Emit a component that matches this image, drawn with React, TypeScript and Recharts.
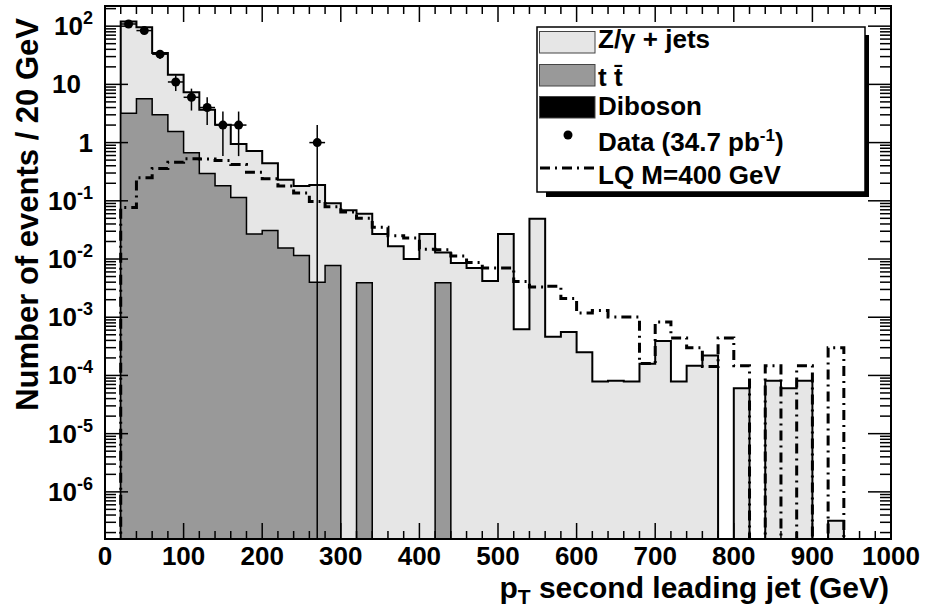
import React from 'react';
import {
  ComposedChart,
  Area,
  Line,
  Scatter,
  ErrorBar,
  XAxis,
  YAxis,
  ReferenceArea,
  Legend,
  Label,
} from 'recharts';

// 20 GeV bins, 0..1000 GeV
const binEdges = Array.from({ length: 51 }, (_, i) => i * 20);

// stacked MC total (Z/gamma + jets on top of ttbar), events / bin
const zjetsStack = [
  0, 120, 96, 34.5, 14.6, 7.3, 3.66, 2.02, 0.95, 0.72,
  0.44, 0.229, 0.18, 0.186, 0.091, 0.069, 0.06, 0.027, 0.0166, 0.01,
  0.027, 0.0129, 0.0085, 0.007, 0.0042, 0.027, 0.00062, 0.049, 0.00046, 0.00056,
  0.00025, 0.000079, 0.000081, 0.000079, 0.000159, 0.00039, 0.000079, 0.000146, 0.00022, 0,
  0.0000605, 0, 0.000081, 0.0000605, 0.000081, 0, 3.2e-7, 0, 0, 0,
];

const ttbar = [
  0, 3.2, 5.66, 3.0, 1.55, 0.67, 0.295, 0.181, 0.114, 0.027,
  0.031, 0.0154, 0.0115, 0.004, 0.0077, 0, 0.0039, 0, 0, 0,
  0, 0.0039, 0, 0, 0, 0, 0, 0, 0, 0,
  0, 0, 0, 0, 0, 0, 0, 0, 0, 0,
  0, 0, 0, 0, 0, 0, 0, 0, 0, 0,
];

const lqM400 = [
  0, 0.077, 0.25, 0.36, 0.46, 0.53, 0.52, 0.49, 0.42, 0.31,
  0.24, 0.18, 0.136, 0.097, 0.079, 0.064, 0.05, 0.035, 0.025, 0.023,
  0.0147, 0.0144, 0.0113, 0.0087, 0.007, 0.007, 0.0041, 0.0033, 0.0034, 0.0021,
  0.00118, 0.00131, 0.00101, 0.00101, 0.00016, 0.00083, 0.00044, 0.0003, 0.000142, 0.00044,
  0.000146, 0, 0.000146, 0, 0.000146, 0, 0.0003, 0, 0, 0,
];

const dataX = [30, 50, 70, 90, 110, 130, 150, 170, 270];
const dataCounts = [109, 84, 33, 11, 6, 4, 2, 2, 1];

const xMajorTicks = [0, 100, 200, 300, 400, 500, 600, 700, 800, 900, 1000];
const yDecades = [-7, -6, -5, -4, -3, -2, -1, 0, 1, 2];
const yDecadeLabels: Record<number, [string, string]> = {
  [-6]: ['10', '-6'],
  [-5]: ['10', '-5'],
  [-4]: ['10', '-4'],
  [-3]: ['10', '-3'],
  [-2]: ['10', '-2'],
  [-1]: ['10', '-1'],
  0: ['1', ''],
  1: ['10', ''],
  2: ['10', '2'],
};

const legendItems = [
  { label: 'Z/\u03b3 + jets', kind: 'box', color: '#e6e6e6' },
  { label: 't t\u0304', kind: 'box', color: '#999999' },
  { label: 'Diboson', kind: 'box', color: '#000000' },
  { label: 'Data (34.7 pb', sup: '-1', tail: ')', kind: 'dot', color: '#000000' },
  { label: 'LQ M=400 GeV', kind: 'line', color: '#000000' },
];

const W = 927;
const H = 610;
const PLOT_L = 105;
const PLOT_R = 891;
const PLOT_T = 6;
const PLOT_B = 539;
const Y_MIN = 1.55e-7;
const Y_MAX = 222;
const LOG_MIN = Math.log10(Y_MIN);
const LOG_MAX = Math.log10(Y_MAX);
const LOG_FLOOR = -12; // empty bins fall below the frame
const FONT = '"Liberation Sans", Arial, Helvetica, sans-serif';

// the y axis is logarithmic: values are handed to a linear axis as log10
const lg = (v: number) => (v > 0 ? Math.log10(v) : LOG_FLOOR);

const histRows = binEdges.map((x, i) => {
  const j = Math.min(i, zjetsStack.length - 1);
  return { x, total: lg(zjetsStack[j]), tt: lg(ttbar[j]), lq: lg(lqM400[j]) };
});

const dataPoints = dataX.map((x, i) => {
  const n = dataCounts[i];
  const e = Math.sqrt(n);
  const y = Math.log10(n);
  return { x, y, ey: [y - Math.log10(Math.max(n - e, Y_MIN)), Math.log10(n + e) - y], ex: 10 };
});

const xTicks = binEdges;
const yTicks: number[] = [];
yDecades.forEach((p) => {
  for (let m = 1; m <= 9; m++) {
    const t = p + Math.log10(m);
    if (t >= LOG_MIN && t <= LOG_MAX) yTicks.push(t);
  }
});

const XTick = (props: any) => {
  const { x, payload } = props;
  const v = payload.value;
  const major = xMajorTicks.includes(v);
  const len = major ? 16 : 8;
  return (
    <g>
      <line x1={x} x2={x} y1={PLOT_B} y2={PLOT_B - len} stroke="#000" strokeWidth={1.5} />
      <line x1={x} x2={x} y1={PLOT_T} y2={PLOT_T + len} stroke="#000" strokeWidth={1.5} />
      {major && (
        <text x={x} y={565} textAnchor="middle" fontFamily={FONT} fontWeight="bold" fontSize={26} fill="#000">
          {v}
        </text>
      )}
    </g>
  );
};

const YTick = (props: any) => {
  const { y, payload } = props;
  const v = payload.value;
  const major = Number.isInteger(v);
  const len = major ? 23 : 11;
  const lab = major ? yDecadeLabels[v] : undefined;
  // the plain "10" label sits further left, as in the original plot
  const right = v === 1 ? 81 : 93;
  return (
    <g>
      <line x1={PLOT_L} x2={PLOT_L + len} y1={y} y2={y} stroke="#000" strokeWidth={1.5} />
      <line x1={PLOT_R - len} x2={PLOT_R} y1={y} y2={y} stroke="#000" strokeWidth={1.5} />
      {lab && (
        <text x={right} y={y + 9} textAnchor="end" fontFamily={FONT} fontWeight="bold" fontSize={26} fill="#000">
          {lab[0]}
          {lab[1] && (
            <tspan dy={-11} fontSize={18}>
              {lab[1]}
            </tspan>
          )}
        </text>
      )}
    </g>
  );
};

const DataDot = (props: any) => <circle cx={props.cx} cy={props.cy} r={4.5} fill="#000" />;

const LegendPanel = () => {
  const rowTop = [31.5, 64.5, 96.5, 129, 162];
  const baselines = [48, 86, 115, 151, 184];
  return (
    <svg width={W} height={H} style={{ position: 'absolute', left: 0, top: 0 }}>
      <rect x={546} y={35} width={323} height={162} fill="#000" />
      <rect x={537} y={27} width={328} height={165} fill="#fff" stroke="#000" strokeWidth={1.5} />
      {legendItems.map((it, i) => (
        <g key={it.label}>
          {it.kind === 'box' && (
            <rect x={539.5} y={rowTop[i]} width={55.5} height={21.5} fill={it.color} stroke="#444" strokeWidth={1} />
          )}
          {it.kind === 'dot' && <circle cx={568} cy={rowTop[i] + 6} r={4.5} fill={it.color} />}
          {it.kind === 'line' && (
            <line x1={540} x2={595} y1={rowTop[i] + 6} y2={rowTop[i] + 6} stroke={it.color} strokeWidth={3} strokeDasharray="10 5 2 5" />
          )}
          <text x={598} y={baselines[i]} fontFamily={FONT} fontWeight="bold" fontSize={26} fill="#000">
            {it.label}
            {it.sup && (
              <tspan dy={-10} fontSize={17}>
                {it.sup}
              </tspan>
            )}
            {it.tail && <tspan dy={10}>{it.tail}</tspan>}
          </text>
        </g>
      ))}
    </svg>
  );
};

export default function App() {
  return (
    <div style={{ position: 'absolute', left: 0, top: 0, width: W, height: H, background: '#fff' }}>
      <ComposedChart width={W} height={H} data={histRows} margin={{ top: PLOT_T, right: W - PLOT_R, bottom: 0, left: 0 }}>
        <Area
          type="stepAfter"
          dataKey="total"
          stroke="#000"
          strokeWidth={2}
          fill="#e6e6e6"
          fillOpacity={1}
          baseValue={LOG_MIN}
          isAnimationActive={false}
        />
        <Area
          type="stepAfter"
          dataKey="tt"
          stroke="#000"
          strokeWidth={1.5}
          fill="#999999"
          fillOpacity={1}
          baseValue={LOG_MIN}
          isAnimationActive={false}
        />
        <Line
          type="stepAfter"
          dataKey="lq"
          stroke="#000"
          strokeWidth={3}
          strokeDasharray="10 5 2 5"
          dot={false}
          isAnimationActive={false}
        />
        <Scatter data={dataPoints} dataKey="y" shape={DataDot} isAnimationActive={false}>
          <ErrorBar dataKey="ex" direction="x" width={0} stroke="#000" strokeWidth={1.5} />
          <ErrorBar dataKey="ey" direction="y" width={0} stroke="#000" strokeWidth={1.5} />
        </Scatter>
        <ReferenceArea x1={0} x2={1000} y1={LOG_MIN} y2={LOG_MAX} fill="none" stroke="#000" strokeWidth={2} />
        <XAxis
          type="number"
          dataKey="x"
          domain={[0, 1000]}
          allowDataOverflow
          ticks={xTicks}
          interval={0}
          tick={<XTick />}
          tickLine={false}
          axisLine={false}
          height={H - PLOT_B}
        >
          <Label
            content={() => (
              <text x={889} y={598} textAnchor="end" fontFamily={FONT} fontWeight="bold" fontSize={30} fill="#000">
                p<tspan dy={6} fontSize={21}>T</tspan>
                <tspan dy={-6}> second leading jet (GeV)</tspan>
              </text>
            )}
          />
        </XAxis>
        <YAxis
          type="number"
          domain={[LOG_MIN, LOG_MAX]}
          allowDataOverflow
          ticks={yTicks}
          interval={0}
          tick={<YTick />}
          tickLine={false}
          axisLine={false}
          width={PLOT_L}
        >
          <Label
            content={() => (
              <text
                transform="rotate(-90)"
                x={-18}
                y={38}
                textAnchor="end"
                fontFamily={FONT}
                fontWeight="bold"
                fontSize={31}
                fill="#000"
              >
                Number of events / 20 GeV
              </text>
            )}
          />
        </YAxis>
        <Legend
          layout="vertical"
          align="center"
          verticalAlign="middle"
          content={LegendPanel}
          wrapperStyle={{ left: 0, top: 0, width: W, height: H, pointerEvents: 'none' }}
        />
      </ComposedChart>
    </div>
  );
}
